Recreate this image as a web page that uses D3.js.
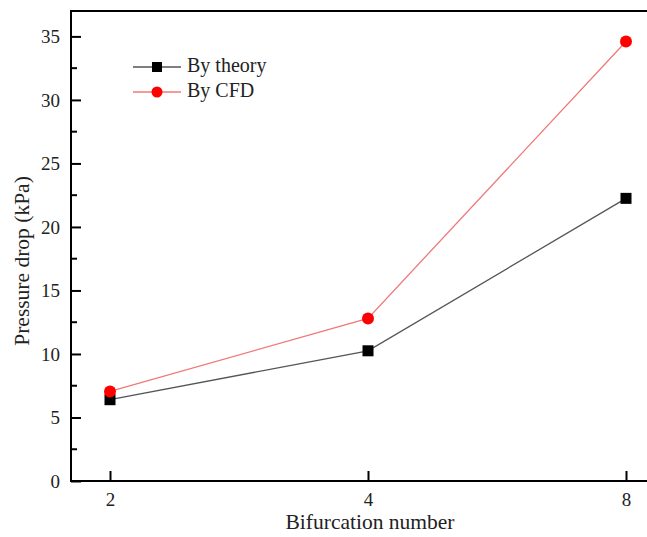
<!DOCTYPE html>
<html><head><meta charset="utf-8">
<script src="https://cdn.jsdelivr.net/npm/d3@7"></script>
<style>body{margin:0;background:#fff;} text{font-family:"Liberation Serif","Times New Roman",serif;}</style>
</head><body>
<svg id="c" width="647" height="537"></svg>
<script>
const categories = [2, 4, 8];
const theory = [6.4, 10.25, 22.25];
const cfd = [7.05, 12.8, 34.6];
const yTicks = [0, 5, 10, 15, 20, 25, 30, 35];
const seriesNames = ["By theory", "By CFD"];

const svg = d3.select("#c");
const L = 71, R = 665, T = 11, B = 481;
const x = d3.scaleLog().base(2).domain([2 / Math.pow(2, 39/258), 8 * Math.pow(2, 39/258)]).range([L, R]);
const y = d3.scaleLinear().domain([0, 37]).range([B, T]);

// frame
svg.append("rect").attr("x", L).attr("y", T).attr("width", R - L).attr("height", B - T)
  .attr("fill", "none").attr("stroke", "#000").attr("stroke-width", 2);

// y axis
const yAx = svg.append("g").attr("transform", `translate(${L},0)`)
  .call(d3.axisLeft(y).tickValues(yTicks).tickSizeInner(-10).tickSizeOuter(0).tickPadding(11));
yAx.select(".domain").remove();
yAx.selectAll("line").attr("stroke-width", 2);
yAx.selectAll("text").attr("font-size", 19).attr("fill", "#222").attr("font-family", "Liberation Serif");
const minorY = d3.range(2.5, 37, 5);
svg.append("g").selectAll("line").data(minorY).join("line")
  .attr("x1", L).attr("x2", L + 6).attr("y1", d => y(d)).attr("y2", d => y(d))
  .attr("stroke", "#000").attr("stroke-width", 2);

// x axis
const xAx = svg.append("g").attr("transform", `translate(0,${B})`)
  .call(d3.axisBottom(x).tickValues(categories).tickFormat(d3.format("d")).tickSizeInner(-10).tickSizeOuter(0).tickPadding(12));
xAx.select(".domain").remove();
xAx.selectAll("line").attr("stroke-width", 2);
xAx.selectAll("text").attr("font-size", 19).attr("fill", "#222").attr("font-family", "Liberation Serif");

// axis titles
svg.append("text").attr("x", 370).attr("y", 529).attr("text-anchor", "middle")
  .attr("font-size", 21.5).attr("fill", "#222").text("Bifurcation number");
svg.append("text").attr("transform", `translate(29,261) rotate(-90)`).attr("text-anchor", "middle")
  .attr("font-size", 21.5).attr("fill", "#222").text("Pressure drop (kPa)");

const line = d3.line().x((d, i) => x(categories[i])).y(d => y(d));
svg.append("path").datum(theory).attr("d", line).attr("fill", "none").attr("stroke", "#555").attr("stroke-width", 1.3);
svg.append("path").datum(cfd).attr("d", line).attr("fill", "none").attr("stroke", "#f07878").attr("stroke-width", 1.3);

svg.append("g").selectAll("rect").data(theory).join("rect")
  .attr("x", (d, i) => x(categories[i]) - 5.5).attr("y", d => y(d) - 5.5).attr("width", 11).attr("height", 11).attr("fill", "#000");
svg.append("g").selectAll("circle").data(cfd).join("circle")
  .attr("cx", (d, i) => x(categories[i])).attr("cy", d => y(d)).attr("r", 6).attr("fill", "#ff0000");

// legend
const lg = svg.append("g");
const ly = [67, 92];
lg.append("line").attr("x1", 133).attr("x2", 181).attr("y1", ly[0]).attr("y2", ly[0]).attr("stroke", "#555").attr("stroke-width", 1.3);
lg.append("rect").attr("x", 157 - 5).attr("y", ly[0] - 5).attr("width", 10).attr("height", 10).attr("fill", "#000");
lg.append("line").attr("x1", 133).attr("x2", 181).attr("y1", ly[1]).attr("y2", ly[1]).attr("stroke", "#f07878").attr("stroke-width", 1.3);
lg.append("circle").attr("cx", 157).attr("cy", ly[1]).attr("r", 5.5).attr("fill", "#ff0000");
lg.selectAll("text").data(seriesNames).join("text")
  .attr("x", 187).attr("y", (d, i) => ly[i] + 5).attr("font-size", 20).attr("fill", "#222").text(d => d);
</script>
</body></html>
